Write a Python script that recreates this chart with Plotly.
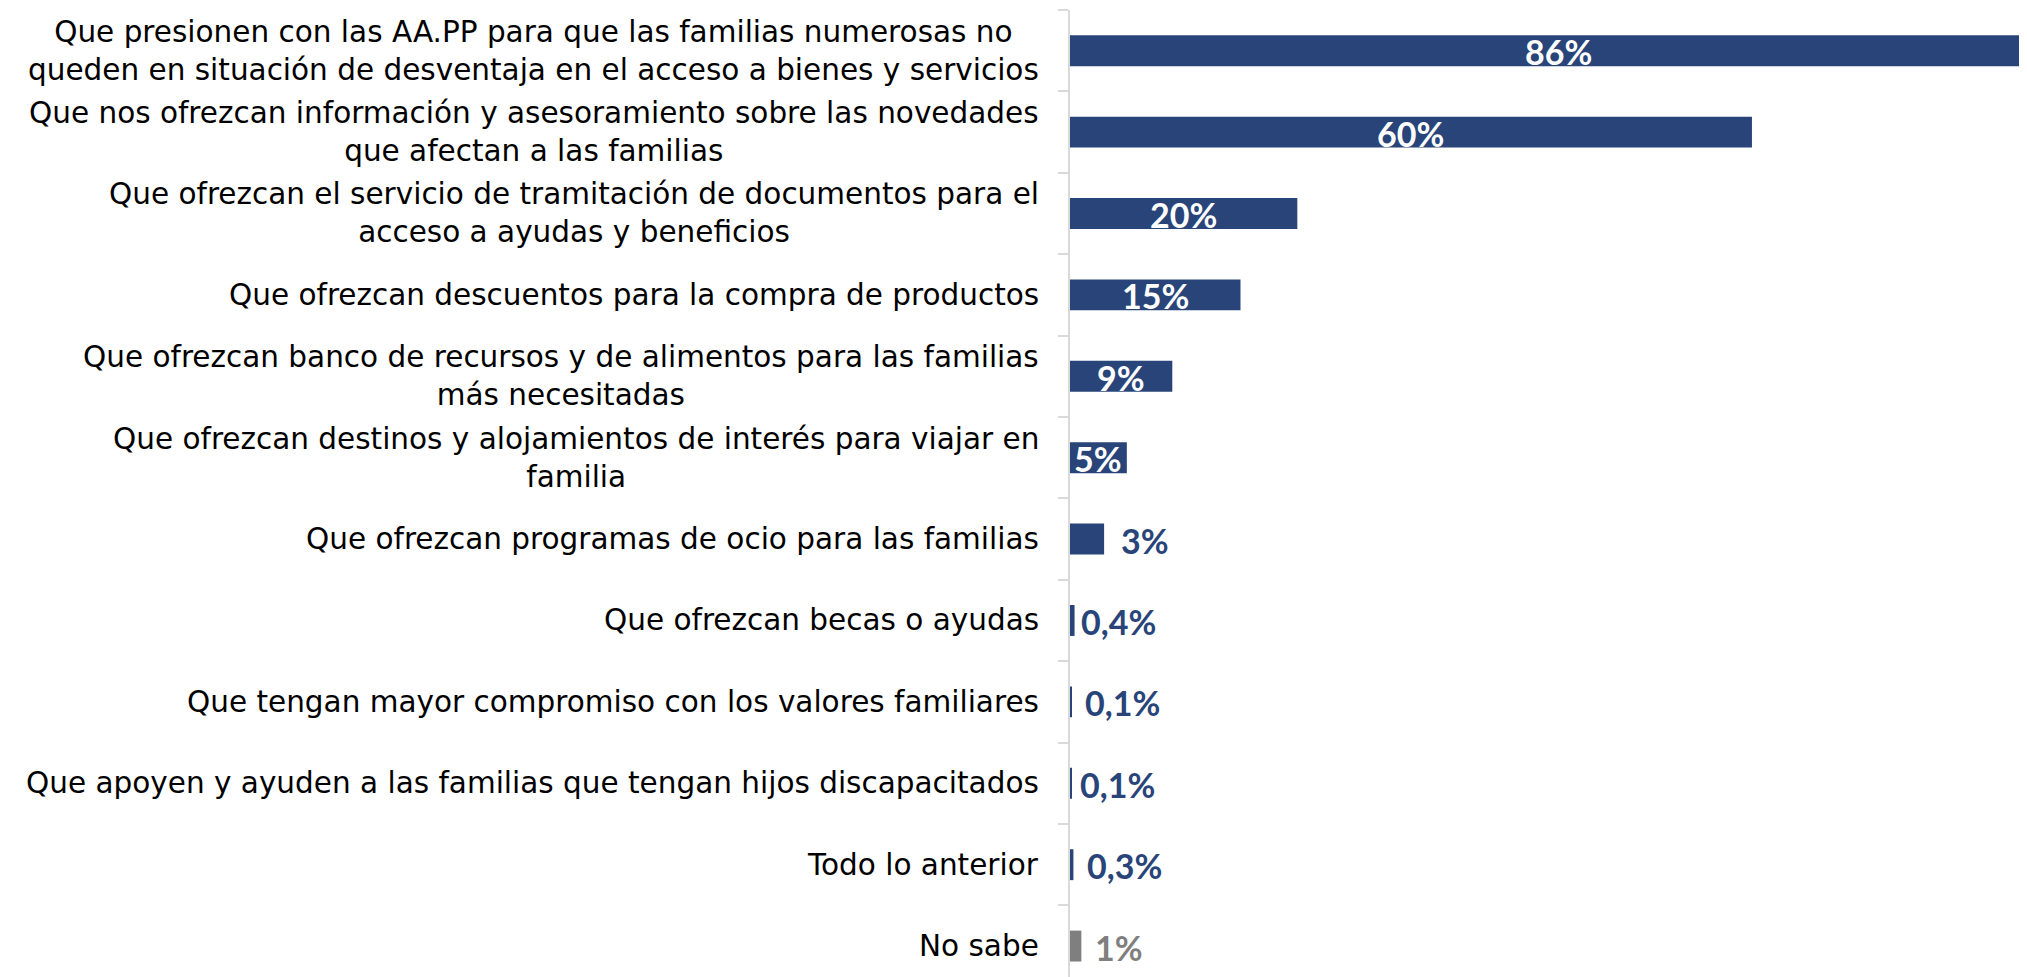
import plotly.graph_objects as go

categories = [
    "Que presionen con las AA.PP para que las familias numerosas no<br>queden en situación de desventaja en el acceso a bienes y servicios",
    "Que nos ofrezcan información y asesoramiento sobre las novedades<br>que afectan a las familias",
    "Que ofrezcan el servicio de tramitación de documentos para el<br>acceso a ayudas y beneficios",
    "Que ofrezcan descuentos para la compra de productos",
    "Que ofrezcan banco de recursos y de alimentos para las familias<br>más necesitadas",
    "Que ofrezcan destinos y alojamientos de interés para viajar en<br>familia",
    "Que ofrezcan programas de ocio para las familias",
    "Que ofrezcan becas o ayudas",
    "Que tengan mayor compromiso con los valores familiares",
    "Que apoyen y ayuden a las familias que tengan hijos discapacitados",
    "Todo lo anterior",
    "No sabe",
]
values = [86, 60, 20, 15, 9, 5, 3, 0.4, 0.1, 0.1, 0.3, 1]
value_labels = ["86%", "60%", "20%", "15%", "9%", "5%", "3%", "0,4%", "0,1%", "0,1%", "0,3%", "1%"]

NAVY = "#284479"
GRAY = "#7F7F7F"
bar_colors = [NAVY] * 11 + [GRAY]
inside = [True] * 6 + [False] * 6
outside_shift = [0] * 6 + [17, 6, 14, 9, 14, 14]

ids = list(range(len(categories)))

fig = go.Figure(
    go.Bar(
        x=values,
        y=ids,
        orientation="h",
        marker=dict(color=bar_colors, line=dict(width=0)),
        width=0.38,
        hoverinfo="skip",
    )
)

annotations = []
for i, (cat, v, lab) in enumerate(zip(categories, values, value_labels)):
    annotations.append(dict(
        x=0, xref="paper", y=i, yref="y", text=cat, showarrow=False,
        xanchor="right", xshift=-29, align="center",
        font=dict(family="DejaVu Sans", size=29.5, color="#000000"),
    ))
    if inside[i]:
        annotations.append(dict(
            x=v / 2, xref="x", y=i, yref="y", text=lab, showarrow=False,
            xanchor="center", yshift=-1,
            font=dict(family="Lato", size=34, color="#FFFFFF", weight="bold"),
        ))
    else:
        annotations.append(dict(
            x=v, xref="x", y=i, yref="y", text=lab, showarrow=False,
            xanchor="left", xshift=outside_shift[i] - 2, yshift=-1,
            font=dict(family="Lato", size=34, color=bar_colors[i], weight="bold"),
        ))

# page body has an 8px default margin: size the figure so it fills the window
fig.update_layout(
    width=2019, height=969,
    margin=dict(l=1062, r=0, t=2, b=0),
    paper_bgcolor="white", plot_bgcolor="white",
    showlegend=False,
    annotations=annotations,
    xaxis=dict(range=[0, 84.2], visible=False, showgrid=False, zeroline=False),
    yaxis=dict(
        range=[11.38, -0.5], showgrid=False, zeroline=False,
        showticklabels=False, tickmode="array", tickvals=[k - 0.5 for k in ids] + [11.5],
        ticks="outside", ticklen=10, tickcolor="#D9D9D9", tickwidth=2,
        showline=True, linecolor="#D9D9D9", linewidth=2,
    ),
)

fig.write_html("out.html")
